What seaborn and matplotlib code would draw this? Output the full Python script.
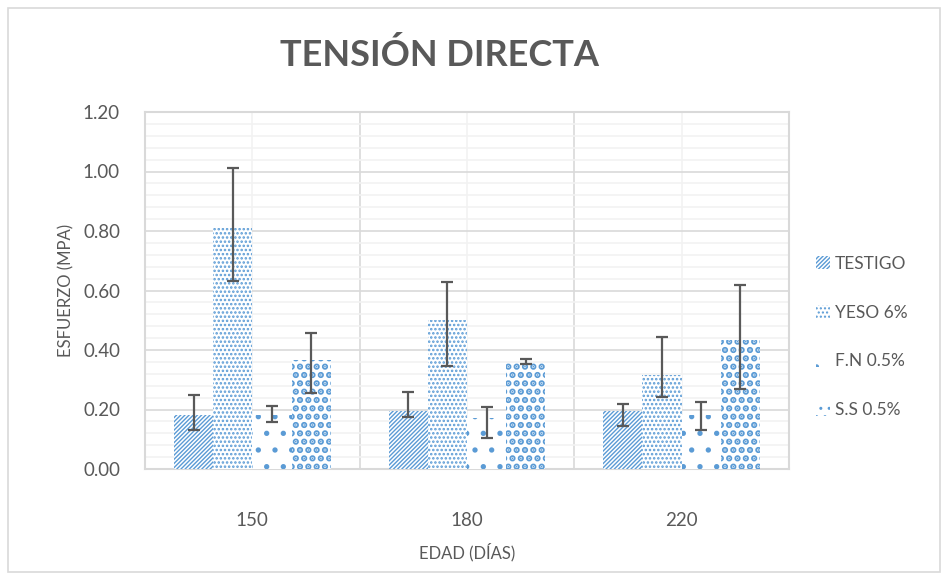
import numpy as np
import pandas as pd
import matplotlib
matplotlib.use('Agg')
import matplotlib.pyplot as plt
import matplotlib.patches as mpatches
from matplotlib.ticker import MultipleLocator, FormatStrFormatter
import seaborn as sns

# --------------------------------------------------------------
# Data
# --------------------------------------------------------------
edad = ['150', '180', '220']
series = ['TESTIGO', 'YESO 6%', 'F.N 0.5%', 'S.S 0.5%']

testigo = [0.18, 0.195, 0.195]
yeso = [0.81, 0.50, 0.315]
fn = [0.18, 0.17, 0.18]
ss = [0.365, 0.357, 0.435]

# error bar ends (low / high)
testigo_low, testigo_high = [0.131, 0.176, 0.146], [0.249, 0.259, 0.217]
yeso_low, yeso_high = [0.633, 0.347, 0.241], [1.013, 0.630, 0.445]
fn_low, fn_high = [0.158, 0.105, 0.131], [0.213, 0.207, 0.226]
ss_low, ss_high = [0.255, 0.352, 0.269], [0.457, 0.369, 0.620]

values = [testigo, yeso, fn, ss]
lows = [testigo_low, yeso_low, fn_low, ss_low]
highs = [testigo_high, yeso_high, fn_high, ss_high]

df = pd.DataFrame({
    'Edad': np.repeat([edad], len(series), axis=0).ravel(),
    'Serie': np.repeat(series, len(edad)),
    'Esfuerzo': np.concatenate(values),
})

# --------------------------------------------------------------
# Style
# --------------------------------------------------------------
sns.set_style('white')
plt.rcParams['font.family'] = ['Lato', 'DejaVu Sans']
plt.rcParams['hatch.linewidth'] = 1.0

blue = '#5B9BD5'
grey_txt = '#595959'
hatches = ['////////', '....', '.', '..']
hatch_lw = [1.0, 1.2, 1.4, 3.2]


def style_patch(p, h, lw):
    p.set_facecolor('white')
    p.set_edgecolor(blue)
    p.set_linewidth(0)
    p.set_hatch(h)
    if hasattr(p, 'set_hatch_linewidth'):
        p.set_hatch_linewidth(lw)


fig = plt.figure(figsize=(9.48, 5.80), dpi=100)
ax = fig.add_axes([145 / 948, 1 - 469 / 580, (789 - 145) / 948, (469 - 112) / 580])

sns.barplot(data=df, x='Edad', y='Esfuerzo', hue='Serie', order=edad,
            hue_order=series, width=0.73, errorbar=None, ax=ax,
            legend=False, zorder=3)

for cont, h, lw, lo, hi, v in zip(ax.containers, hatches, hatch_lw, lows, highs, values):
    xs = []
    for bar in cont:
        style_patch(bar, h, lw)
        xs.append(bar.get_x() + bar.get_width() / 2)
    v = np.array(v)
    yerr = [v - np.array(lo), np.array(hi) - v]
    ax.errorbar(xs, v, yerr=yerr, fmt='none', ecolor=grey_txt,
                elinewidth=1.6, capsize=4.6, capthick=1.6, zorder=4)

# axes / grid
ax.set_ylim(0, 1.2)
ax.set_xlim(-0.5, 2.5)
ax.yaxis.set_major_locator(MultipleLocator(0.2))
ax.yaxis.set_minor_locator(MultipleLocator(0.04))
ax.grid(True, which='major', axis='y', color='#D9D9D9', lw=1.2, zorder=0)
ax.grid(True, which='minor', axis='y', color='#F2F2F2', lw=1.2, zorder=0)
for xb in [0.5, 1.5]:
    ax.axvline(xb, color='#D9D9D9', lw=1.2, zorder=0)
for xc in [0, 1, 2]:
    ax.axvline(xc, color='#F2F2F2', lw=1.2, zorder=0)
ax.set_axisbelow(True)
for s in ax.spines.values():
    s.set_color('#D9D9D9')
    s.set_linewidth(1.5)

ax.yaxis.set_major_formatter(FormatStrFormatter('%.2f'))
ax.tick_params(axis='both', which='both', length=0, colors=grey_txt, labelsize=13.5)
ax.tick_params(axis='y', pad=18)
ax.tick_params(axis='x', pad=31)

ax.set_ylabel('ESFUERZO (MPA)', color=grey_txt, fontsize=12, labelpad=6)
ax.set_xlabel('EDAD (DÍAS)', color=grey_txt, fontsize=12, labelpad=10)

fig.text(439 / 948, 1 - 55 / 580, 'TENSIÓN DIRECTA', ha='center', va='center',
         fontsize=26, fontweight='bold', color=grey_txt)

# legend
handles = []
for h, lw in zip(hatches, hatch_lw):
    p = mpatches.Patch()
    style_patch(p, h, lw)
    handles.append(p)
fig.legend(handles, series, loc='center left', bbox_to_anchor=(800 / 948, 1 - 337 / 580),
           frameon=False, fontsize=12.5, labelcolor=grey_txt, handlelength=0.8,
           handleheight=0.8, handletextpad=0.3, labelspacing=1.9)

# chart border
fig.patches.append(mpatches.Rectangle((8 / 948, 8 / 580), 1 - 16 / 948, 1 - 16 / 580,
                                      transform=fig.transFigure, fill=False,
                                      edgecolor='#D9D9D9', lw=1.2))

fig.savefig('out.png', dpi=100)
